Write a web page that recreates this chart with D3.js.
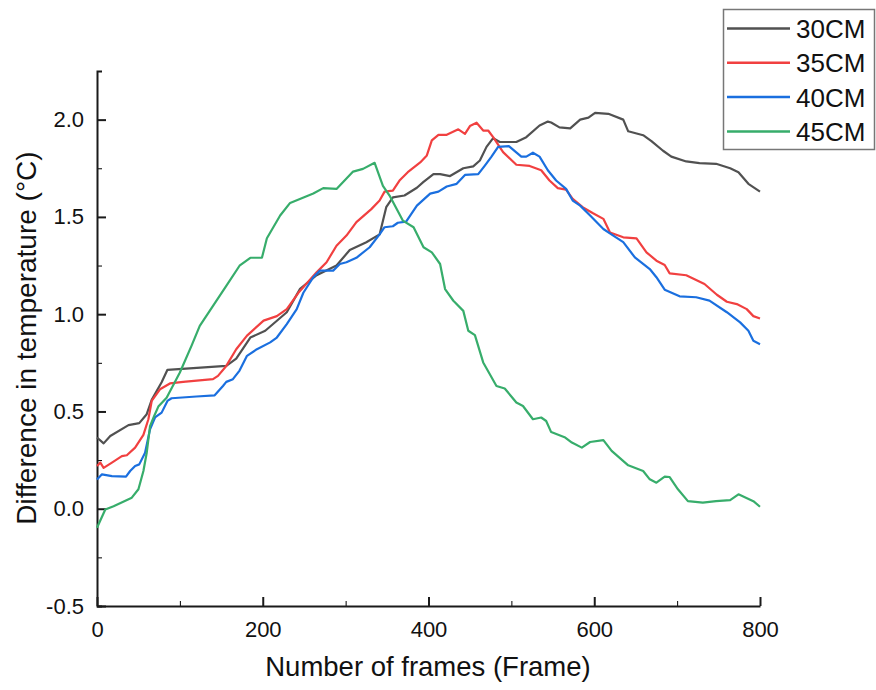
<!DOCTYPE html>
<html>
<head>
<meta charset="utf-8">
<script src="https://cdn.jsdelivr.net/npm/d3@7"></script>
<style>
  body { margin: 0; background: #fff; }
  svg { font-family: "Liberation Sans", Arial, sans-serif; }
</style>
</head>
<body>
<div id="chart"></div>
<script>
const frames30 = [0,8,16,38,51,60,66,78,85,156,168,185,203,229,245,265,289,305,325,341,349,357,371,386,394,406,414,426,442,454,462,470,478,486,506,518,534,544,548,558,571,583,593,601,617,635,641,659,669,683,693,711,727,747,764,774,786,800];
const temp30 = [0.366,0.336,0.374,0.43,0.44,0.486,0.56,0.65,0.714,0.734,0.772,0.88,0.915,1.01,1.13,1.20,1.25,1.33,1.37,1.41,1.55,1.60,1.61,1.65,1.68,1.72,1.72,1.71,1.75,1.76,1.79,1.86,1.905,1.885,1.885,1.91,1.97,1.99,1.985,1.96,1.955,2.00,2.01,2.035,2.03,2.00,1.94,1.92,1.89,1.84,1.81,1.785,1.776,1.773,1.75,1.73,1.67,1.63];

const frames35 = [0,4,8,18,30,36,46,56,62,66,76,88,104,140,146,156,168,181,201,217,229,243,265,277,289,301,313,331,341,347,357,365,375,390,398,404,412,422,436,444,450,458,466,472,478,490,506,522,536,546,556,566,574,586,598,611,619,635,651,663,675,685,691,711,733,748,760,772,784,792,800];
const temp35 = [0.22,0.237,0.21,0.237,0.27,0.275,0.314,0.38,0.46,0.554,0.614,0.644,0.652,0.666,0.683,0.734,0.82,0.89,0.967,0.99,1.026,1.11,1.215,1.267,1.352,1.404,1.473,1.54,1.584,1.63,1.635,1.687,1.73,1.78,1.816,1.893,1.922,1.922,1.95,1.927,1.967,1.984,1.944,1.944,1.91,1.833,1.768,1.762,1.74,1.687,1.648,1.64,1.593,1.55,1.52,1.49,1.42,1.395,1.39,1.318,1.275,1.253,1.21,1.20,1.155,1.10,1.064,1.052,1.026,0.99,0.978];

const frames40 = [0,6,18,35,40,46,51,58,64,70,78,85,90,120,142,152,156,164,172,181,193,209,217,229,241,249,261,269,285,293,301,313,329,341,347,357,363,373,386,402,412,422,434,444,460,468,476,484,497,512,518,526,534,544,554,566,574,583,595,611,623,635,649,667,675,685,703,723,739,760,776,786,792,800];
const temp40 = [0.15,0.177,0.168,0.165,0.194,0.22,0.228,0.288,0.408,0.469,0.494,0.554,0.568,0.577,0.583,0.631,0.652,0.666,0.71,0.786,0.82,0.855,0.88,0.949,1.026,1.11,1.19,1.224,1.224,1.258,1.267,1.29,1.344,1.41,1.447,1.452,1.47,1.476,1.558,1.62,1.63,1.656,1.67,1.716,1.72,1.764,1.81,1.86,1.864,1.81,1.81,1.83,1.81,1.74,1.687,1.644,1.584,1.558,1.507,1.438,1.404,1.37,1.292,1.232,1.19,1.126,1.092,1.087,1.07,1.01,0.958,0.915,0.863,0.846];

const frames45 = [0,10,20,42,50,56,60,64,69,74,84,100,114,124,140,156,172,185,199,205,221,233,261,273,289,297,309,321,335,345,353,369,382,394,404,414,420,430,442,448,456,466,482,492,506,514,526,536,542,548,565,573,585,595,611,621,641,659,667,675,685,691,701,713,731,747,764,774,792,800];
const temp45 = [-0.098,-0.004,0.013,0.057,0.10,0.194,0.288,0.425,0.477,0.525,0.571,0.70,0.837,0.94,1.043,1.146,1.249,1.29,1.29,1.39,1.507,1.572,1.62,1.648,1.644,1.68,1.733,1.747,1.778,1.66,1.61,1.481,1.447,1.344,1.318,1.258,1.129,1.069,1.017,0.915,0.892,0.752,0.631,0.618,0.546,0.528,0.46,0.469,0.451,0.394,0.366,0.34,0.314,0.343,0.353,0.297,0.223,0.194,0.151,0.134,0.165,0.163,0.10,0.039,0.031,0.039,0.044,0.074,0.039,0.01];

const seriesNames = ['30CM', '35CM', '40CM', '45CM'];
const seriesColors = ['#515151', '#F14040', '#1A6FDF', '#37AD6B'];
const xTicks = [0, 200, 400, 600, 800];
const yTicks = [-0.5, 0.0, 0.5, 1.0, 1.5, 2.0];

const series = [
  { name: seriesNames[0], color: seriesColors[0], xs: frames30, ys: temp30 },
  { name: seriesNames[1], color: seriesColors[1], xs: frames35, ys: temp35 },
  { name: seriesNames[2], color: seriesColors[2], xs: frames40, ys: temp40 },
  { name: seriesNames[3], color: seriesColors[3], xs: frames45, ys: temp45 }
];

const W = 876, H = 690;
const svg = d3.select('#chart').append('svg')
  .attr('width', W)
  .attr('height', H);

const x = d3.scaleLinear().domain([0, 800]).range([97, 760]);
const y = d3.scaleLinear().domain([-0.5, 2.25]).range([606, 71]);

// minor ticks first, then major axes on top
svg.append('g')
  .attr('transform', `translate(0,${y(-0.5)})`)
  .call(d3.axisBottom(x).tickValues([100, 300, 500, 700]).tickSize(-5).tickFormat(''))
  .call(g => g.select('.domain').remove());
svg.append('g')
  .attr('transform', `translate(${x(0)},0)`)
  .call(d3.axisLeft(y).tickValues([-0.25, 0.25, 0.75, 1.25, 1.75]).tickSize(-5).tickFormat(''))
  .call(g => g.select('.domain').remove());

const xAxis = svg.append('g')
  .attr('transform', `translate(0,${y(-0.5)})`)
  .call(d3.axisBottom(x).tickValues(xTicks).tickSize(-9).tickSizeOuter(0).tickPadding(15).tickFormat(d => String(d)));

// plain hyphen for the negative label, as in the original
const yAxis = svg.append('g')
  .attr('transform', `translate(${x(0)},0)`)
  .call(d3.axisLeft(y).tickValues(yTicks).tickSize(-9).tickSizeOuter(-5).tickPadding(13).tickFormat(d => d.toFixed(1)));

[xAxis, yAxis].forEach(g => {
  g.selectAll('path, line').attr('stroke', '#1a1a1a').attr('stroke-width', 2);
  g.selectAll('text').attr('fill', '#111').style('font-size', '22px').style('font-family', '"Liberation Sans", Arial, sans-serif');
});

// curves
const line = d3.line().x(d => x(d[0])).y(d => y(d[1]));
series.forEach(s => {
  const pts = s.xs.map((f, i) => [f, s.ys[i]]);
  svg.append('path')
    .attr('d', line(pts))
    .attr('fill', 'none')
    .attr('stroke', s.color)
    .attr('stroke-width', 2.2)
    .attr('stroke-linejoin', 'round');
});

// axis titles
svg.append('text')
  .attr('x', 428)
  .attr('y', 676)
  .attr('text-anchor', 'middle')
  .style('font-size', '27.5px')
  .attr('fill', '#111')
  .text('Number of frames (Frame)');

svg.append('text')
  .attr('transform', 'translate(36,338) rotate(-90)')
  .attr('text-anchor', 'middle')
  .style('font-size', '28px')
  .attr('fill', '#111')
  .text('Difference in temperature (°C)');

// legend
const legend = svg.append('g');
legend.append('rect')
  .attr('x', 723.5).attr('y', 9.5)
  .attr('width', 151).attr('height', 140)
  .attr('fill', '#fff')
  .attr('stroke', '#777')
  .attr('stroke-width', 1.5);
series.forEach((s, i) => {
  const ly = 28.5 + i * 34.3;
  legend.append('line')
    .attr('x1', 727).attr('x2', 790)
    .attr('y1', ly).attr('y2', ly)
    .attr('stroke', s.color)
    .attr('stroke-width', 2.5);
  legend.append('text')
    .attr('x', 796)
    .attr('y', ly + 9.5)
    .style('font-size', '26px')
    .attr('fill', '#111')
    .text(s.name);
});
</script>
</body>
</html>
